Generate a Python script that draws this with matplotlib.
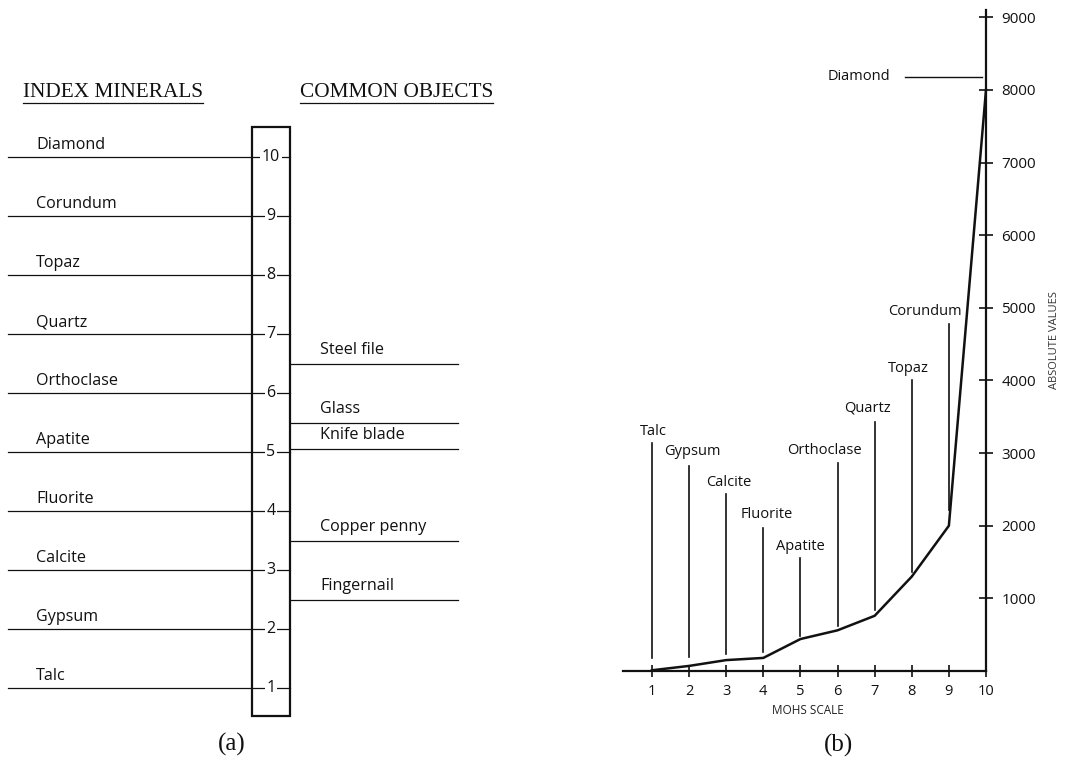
"""Mohs hardness scale: (a) index minerals vs common objects, (b) absolute hardness."""
import matplotlib

matplotlib.use("Agg")
import matplotlib.pyplot as plt  # noqa: E402
from matplotlib.lines import Line2D  # noqa: E402
from matplotlib.patches import Rectangle  # noqa: E402

# --- data -----------------------------------------------------------------
minerals = ["Talc", "Gypsum", "Calcite", "Fluorite", "Apatite",
            "Orthoclase", "Quartz", "Topaz", "Corundum", "Diamond"]
mohs = [1, 2, 3, 4, 5, 6, 7, 8, 9, 10]
absolute = [10, 70, 150, 180, 440, 560, 760, 1300, 2000, 8000]

objects = ["Steel file", "Glass", "Knife blade", "Copper penny", "Fingernail"]
object_hardness = [6.5, 5.5, 5.05, 3.5, 2.5]

# leader lines in panel (b): bottom / top of each vertical line
leader_bottom = [180, 190, 230, 260, 480, 620, 840, 1360, 2220]
leader_top = [3140, 2820, 2440, 1970, 1560, 2860, 3430, 4010, 4780]
# label anchor (x, y) for each leader in panel (b)
label_x = [1.03, 2.1, 3.08, 4.1, 5.0, 5.64, 6.8, 7.9, 8.36]
label_y = [3300, 3020, 2590, 2150, 1720, 3040, 3620, 4170, 4950]
diamond_line_y = 8180

yticks_b = [1000, 2000, 3000, 4000, 5000, 6000, 7000, 8000, 9000]

SANS = ["Open Sans", "DejaVu Sans"]
SERIF = ["Liberation Serif", "DejaVu Serif"]
INK = "#111111"

W, H = 1065, 772
fig = plt.figure(figsize=(W / 100, H / 100), dpi=100)
fig.patch.set_facecolor("white")

# --- panel (a) ------------------------------------------------------------
ax1 = fig.add_axes([0, (H - 747) / H, 540 / W, 678.5 / H])
ax1.set_xlim(0, 540)
ax1.set_ylim(0, 11.5)
ax1.axis("off")

ax1.add_patch(Rectangle((252, 0.53), 38, 9.98, fill=False, lw=1.6,
                        edgecolor=INK, zorder=3))

for name, h in zip(minerals, mohs):
    ax1.plot([8, 290], [h, h], color=INK, lw=0.9, zorder=2)
    ax1.text(36, h + 0.2, name, family=SANS, fontsize=11.6, va="center",
             ha="left", color=INK)
    ax1.text(271, h, str(h), family=SANS, fontsize=11.5, va="center",
             ha="center", color=INK, zorder=4,
             bbox=dict(facecolor="white", edgecolor="none", pad=1.0))

for name, h in zip(objects, object_hardness):
    ax1.plot([290, 458], [h, h], color=INK, lw=0.9, zorder=2)
    ax1.text(320, h + 0.23, name, family=SANS, fontsize=11.6, va="center",
             ha="left", color=INK)

headers = [
    ax1.text(23, 11.1, "INDEX MINERALS", family=SERIF, fontsize=15.3,
             va="center", ha="left", color=INK),
    ax1.text(300, 11.1, "COMMON OBJECTS", family=SERIF, fontsize=15.3,
             va="center", ha="left", color=INK),
]

ax1.text(232, 0.05, "(a)", family=SERIF, fontsize=18, ha="center",
         va="center", color=INK)

# --- panel (b) ------------------------------------------------------------
ax2 = fig.add_axes([623 / W, (H - 671) / H, 363 / W, 661 / H])
ax2.set_xlim(0.22, 10)
ax2.set_ylim(0, 9100)
for side in ("top", "left"):
    ax2.spines[side].set_visible(False)
for side in ("bottom", "right"):
    ax2.spines[side].set_linewidth(1.6)
    ax2.spines[side].set_color(INK)
ax2.patch.set_alpha(0)

ax2.yaxis.tick_right()
ax2.set_yticks(yticks_b)
ax2.set_yticklabels([str(v) for v in yticks_b], family=SANS, fontsize=11)
ax2.set_xticks(mohs)
ax2.set_xticklabels([str(v) for v in mohs], family=SANS, fontsize=10.5)
ax2.tick_params(axis="y", direction="inout", length=10, width=1.2,
                pad=6, colors=INK)
ax2.tick_params(axis="x", direction="inout", length=9, width=1.2,
                pad=5, colors=INK)

ax2.plot(mohs, absolute, color=INK, lw=1.8, zorder=3, clip_on=False)

for i in range(9):
    ax2.plot([mohs[i], mohs[i]], [leader_bottom[i], leader_top[i]],
             color=INK, lw=1.2)
    ax2.text(label_x[i], label_y[i], minerals[i], family=SANS,
             fontsize=10.5, ha="center", va="center", color=INK)

ax2.plot([7.82, 9.9], [diamond_line_y, diamond_line_y], color=INK, lw=1.0)
ax2.text(7.41, diamond_line_y, minerals[9], family=SANS, fontsize=10.5,
         ha="right", va="center", color=INK)

ax2.text(1.19, 0.5, "ABSOLUTE VALUES", transform=ax2.transAxes,
         rotation=90, family=SANS, fontsize=8, ha="center", va="center",
         color="#333333")
ax2.text(0.51, -0.06, "MOHS SCALE", transform=ax2.transAxes, family=SANS,
         fontsize=8.5, ha="center", va="center", color="#222222")
ax2.text(0.593, -0.112, "(b)", transform=ax2.transAxes, family=SERIF,
         fontsize=18, ha="center", va="center", color=INK)

# underline the serif headers
fig.canvas.draw()
renderer = fig.canvas.get_renderer()
inv = fig.transFigure.inverted()
for t in headers:
    bb = t.get_window_extent(renderer)
    (x0, y0), (x1, _) = inv.transform([[bb.x0, bb.y0], [bb.x1, bb.y1]])
    fig.add_artist(Line2D([x0, x1], [y0 - 1 / H, y0 - 1 / H],
                          transform=fig.transFigure, color=INK, lw=0.9))

fig.savefig("out.png", dpi=100)
